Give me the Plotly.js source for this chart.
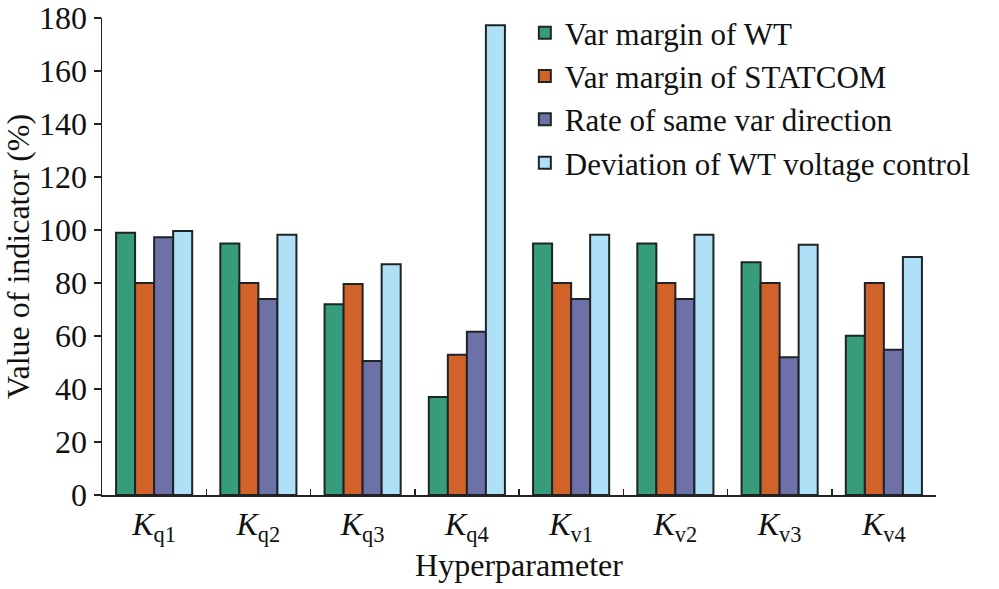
<!DOCTYPE html>
<html>
<head>
<meta charset="utf-8">
<script src="https://cdn.plot.ly/plotly-3.0.1.min.js"></script>
<style>
  html, body { margin: 0; padding: 0; background: #fff; }
  #chart { width: 999px; height: 589px; }
</style>
</head>
<body>
<div id="chart"></div>
<script>
"use strict";

// Hyperparameter categories (K with subscripts)
const categories = [
  "<i>K</i><sub>q1</sub>", "<i>K</i><sub>q2</sub>", "<i>K</i><sub>q3</sub>", "<i>K</i><sub>q4</sub>",
  "<i>K</i><sub>v1</sub>", "<i>K</i><sub>v2</sub>", "<i>K</i><sub>v3</sub>", "<i>K</i><sub>v4</sub>",
];

const seriesNames = [
  "Var margin of WT",
  "Var margin of STATCOM",
  "Rate of same var direction",
  "Deviation of WT voltage control",
];

const varMarginWT      = [99.0, 94.9, 72.0, 37.0, 94.9, 94.9, 87.8, 60.1];
const varMarginSTATCOM = [80.0, 80.0, 79.6, 52.9, 80.0, 80.0, 80.0, 80.0];
const sameVarRate      = [97.3, 74.0, 50.6, 61.6, 74.0, 74.0, 52.0, 54.8];
const wtVoltageDev     = [99.6, 98.2, 87.1, 177.3, 98.2, 98.2, 94.4, 89.8];

const yTicks = [0, 20, 40, 60, 80, 100, 120, 140, 160, 180];

const COLORS = ["#379c7c", "#d0622a", "#6e70a8", "#aee0f8"];
const FONT = "Liberation Serif, Times New Roman, serif";
const SIZE = 32;

const values = [varMarginWT, varMarginSTATCOM, sameVarRate, wtVoltageDev];

const traces = values.map((vals, i) => ({
  type: "bar",
  name: seriesNames[i],
  x: categories,
  y: vals,
  marker: {
    color: COLORS[i],
    line: { color: "#1e2426", width: 2 },
  },
  hoverinfo: "skip",
}));

const layout = {
  width: 999,
  height: 589,
  paper_bgcolor: "#fff",
  plot_bgcolor: "#fff",
  font: { family: FONT, size: SIZE, color: "#111" },
  // legend sticks out past the plot area, keep the plot from shrinking
  margin: { l: 102, r: 63, t: 18, b: 94, autoexpand: false },
  barmode: "group",
  bargap: 0.27,
  bargroupgap: 0,
  showlegend: true,
  legend: {
    x: 0.507,
    xanchor: "left",
    y: 1.025,
    yanchor: "top",
    bgcolor: "rgba(0,0,0,0)",
    font: { family: FONT, size: 31, color: "#111" },
    tracegroupgap: 0,
    itemwidth: 30,
  },
  xaxis: {
    type: "category",
    showline: true,
    linecolor: "#222",
    linewidth: 1.5,
    ticks: "inside",
    tickson: "boundaries",
    ticklen: 6,
    tickwidth: 1.5,
    tickcolor: "#222",
    showgrid: false,
    zeroline: false,
    tickfont: { family: FONT, size: SIZE, color: "#111" },
    title: { text: "Hyperparameter", font: { family: FONT, size: SIZE, color: "#111" }, standoff: 8 },
  },
  yaxis: {
    range: [0, 180],
    tickvals: yTicks,
    ticktext: yTicks.map(String),
    showline: true,
    linecolor: "#222",
    linewidth: 1.5,
    ticks: "outside",
    ticklen: 7,
    tickwidth: 1.5,
    tickcolor: "#222",
    showgrid: false,
    zeroline: false,
    tickfont: { family: FONT, size: SIZE, color: "#111" },
    title: { text: "Value of indicator (%)", font: { family: FONT, size: SIZE, color: "#111" }, standoff: 6 },
  },
};

Plotly.newPlot("chart", traces, layout, { displayModeBar: false, staticPlot: true });
</script>
</body>
</html>
